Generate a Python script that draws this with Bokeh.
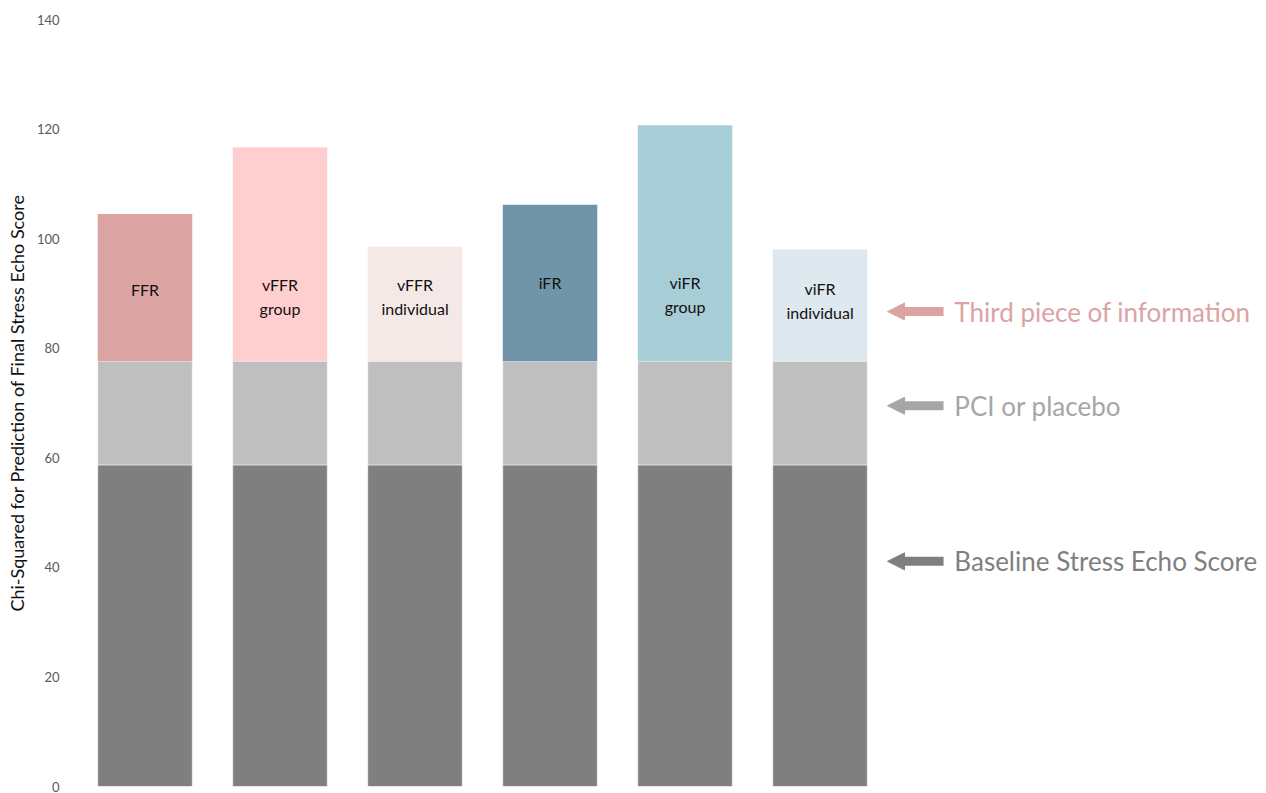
from bokeh.plotting import figure
from bokeh.models import ColumnDataSource, FixedTicker, Range1d, Arrow, NormalHead, Label
from bokeh.embed import file_html
from bokeh.resources import INLINE
from bokeh.core.properties import value

# Model names and their chi-squared values
labels = ["FFR", "vFFR\ngroup", "vFFR\nindividual", "iFR", "viFR\ngroup", "viFR\nindividual"]
baseline_score = [58.7, 58.7, 58.7, 58.7, 58.7, 58.7]     # baseline stress echo score alone
with_pci = [77.6, 77.6, 77.6, 77.6, 77.6, 77.6]           # + PCI or placebo
with_third = [104.5, 116.7, 98.5, 106.2, 120.7, 98.0]     # + third piece of information
third_colors = ["#dca3a3", "#ffcfcf", "#f5e9e7", "#7195a8", "#a7cdd6", "#dee8ef"]
y_ticks = [0, 20, 40, 60, 80, 100, 120, 140]

# vertical placement of the in-bar captions
caption_y = [90.7, 89.4, 89.4, 92.0, 89.8, 88.7]

FONT = "Lato"
x = list(range(len(labels)))

src = ColumnDataSource(dict(
    x=x, base=baseline_score, pci=with_pci, third=with_third, color=third_colors,
    label=labels, label_y=caption_y,
))

p = figure(width=1266, height=793, output_backend="svg", toolbar_location=None,
           x_range=Range1d(-0.5, 8.307), y_range=Range1d(0, 140),
           min_border_left=77, min_border_right=0, min_border_top=19, min_border_bottom=7)

bar_w = 0.70
p.vbar(x="x", bottom=0, top="base", width=bar_w, source=src,
       fill_color="#7f7f7f", line_color="white", line_alpha=0.5)
p.vbar(x="x", bottom="base", top="pci", width=bar_w, source=src,
       fill_color="#bfbfbf", line_color="white", line_alpha=0.5)
p.vbar(x="x", bottom="pci", top="third", width=bar_w, source=src,
       fill_color="color", line_color=None)

p.text(x="x", y="label_y", text="label", source=src, text_align="center",
       text_baseline="middle", text_font=value(FONT), text_font_size="16px",
       text_color="#111111", text_line_height=1.25)

# Side annotations with arrows pointing back at the bars
notes = [
    ("Third piece of information", 86.7, "#dca3a3"),
    ("PCI or placebo", 69.5, "#a6a6a6"),
    ("Baseline Stress Echo Score", 41.1, "#7f7f7f"),
]
tip_x = x[-1] + 0.5
for text, yy, col in notes:
    p.add_layout(Arrow(x_start=tip_x + 0.415, y_start=yy, x_end=tip_x, y_end=yy,
                       line_color=col, line_width=9,
                       end=NormalHead(size=17, fill_color=col, line_color=col)))
    p.add_layout(Label(x=tip_x + 0.495, y=yy, text=text, text_color=col,
                       text_font=FONT, text_font_size="26px", text_baseline="middle"))

p.xaxis.visible = False
p.yaxis.ticker = FixedTicker(ticks=y_ticks)
p.yaxis.axis_line_color = None
p.yaxis.major_tick_line_color = None
p.yaxis.minor_tick_line_color = None
p.yaxis.major_label_text_font = FONT
p.yaxis.major_label_text_font_size = "13px"
p.yaxis.major_label_text_color = "#595959"
p.yaxis.major_label_standoff = 12
p.yaxis.axis_label = "Chi-Squared for Prediction of Final Stress Echo Score"
p.yaxis.axis_label_text_font = FONT
p.yaxis.axis_label_text_font_size = "18px"
p.yaxis.axis_label_text_font_style = "normal"
p.yaxis.axis_label_text_color = "#111111"
p.yaxis.axis_label_standoff = 6
p.xgrid.grid_line_color = None
p.ygrid.grid_line_color = None
p.outline_line_color = None
p.background_fill_color = "white"
p.border_fill_color = "white"

open("out.html", "w").write(file_html(p, INLINE))
